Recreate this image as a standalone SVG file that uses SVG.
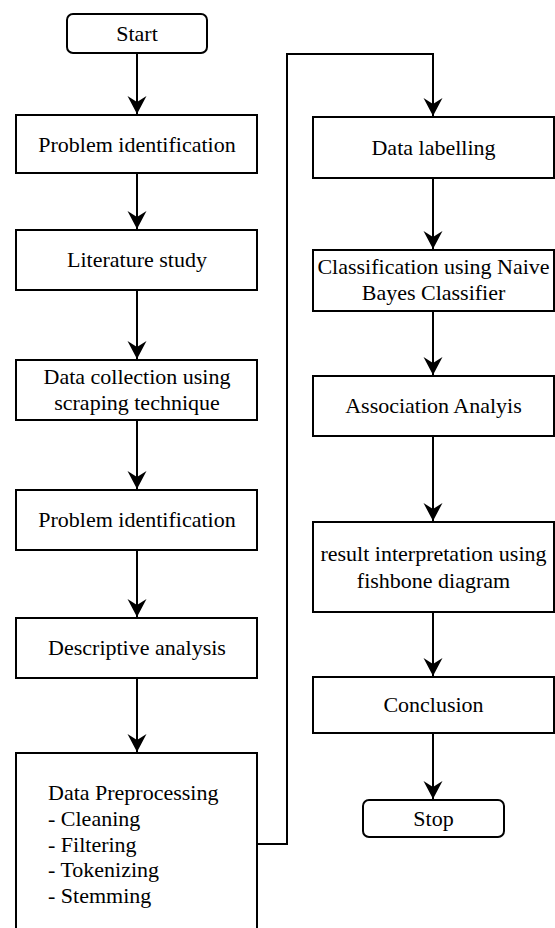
<svg xmlns="http://www.w3.org/2000/svg" width="555" height="928" viewBox="0 0 555 928">
<defs>
<style>
.box{fill:#fff;stroke:#000;stroke-width:2}
.t{font-size:22px;fill:#000;text-anchor:middle}
.tl{font-size:22px;fill:#000}
.c{fill:none;stroke:#000;stroke-width:2}
</style>
<marker id="ah" markerWidth="20" markerHeight="20" refX="18" refY="10" orient="auto" markerUnits="userSpaceOnUse" viewBox="0 0 20 20">
<path d="M18,10 L0,0.5 L6,10 L0,19.5 Z" fill="#000"/>
</marker>
</defs>
<rect width="555" height="928" fill="#fff"/>
<g id="connectors">
<path class="c" d="M137,53 V114" marker-end="url(#ah)"/>
<path class="c" d="M137,173 V229" marker-end="url(#ah)"/>
<path class="c" d="M137,290 V359" marker-end="url(#ah)"/>
<path class="c" d="M137,420 V489" marker-end="url(#ah)"/>
<path class="c" d="M137,550 V617" marker-end="url(#ah)"/>
<path class="c" d="M137,678 V752" marker-end="url(#ah)"/>
<path class="c" d="M257,844 H287 V54 H433 V116" marker-end="url(#ah)"/>
<path class="c" d="M433,178 V249" marker-end="url(#ah)"/>
<path class="c" d="M433,311 V375" marker-end="url(#ah)"/>
<path class="c" d="M433,436 V521" marker-end="url(#ah)"/>
<path class="c" d="M433,612 V676" marker-end="url(#ah)"/>
<path class="c" d="M433,733 V799" marker-end="url(#ah)"/>
</g>
<g font-family="Liberation Serif, Times New Roman, serif">
<g id="start"><rect class="box" x="67" y="14" width="140" height="39" rx="6"/><text class="t" x="137" y="41">Start</text></g>
<g id="problem1"><rect class="box" x="16" y="115" width="241" height="58"/><text class="t" x="137" y="152">Problem identification</text></g>
<g id="literature"><rect class="box" x="16" y="230" width="241" height="60"/><text class="t" x="137" y="267">Literature study</text></g>
<g id="collection"><rect class="box" x="16" y="360" width="241" height="60"/><text class="t" x="137" y="384">Data collection using</text><text class="t" x="137" y="410">scraping technique</text></g>
<g id="problem2"><rect class="box" x="16" y="490" width="241" height="60"/><text class="t" x="137" y="527">Problem identification</text></g>
<g id="descriptive"><rect class="box" x="16" y="618" width="241" height="60"/><text class="t" x="137" y="655">Descriptive analysis</text></g>
<g id="preprocessing"><rect class="box" x="16" y="753" width="241" height="200"/>
<text class="tl" x="48" y="800">Data Preprocessing</text>
<text class="tl" x="48" y="826">- Cleaning</text>
<text class="tl" x="48" y="852">- Filtering</text>
<text class="tl" x="48" y="877">- Tokenizing</text>
<text class="tl" x="48" y="903">- Stemming</text>
</g>
<g id="labelling"><rect class="box" x="313" y="117" width="241" height="61"/><text class="t" x="433.5" y="155">Data labelling</text></g>
<g id="classification"><rect class="box" x="313" y="250" width="241" height="61"/><text class="t" x="433.5" y="274">Classification using Naive</text><text class="t" x="433.5" y="300">Bayes Classifier</text></g>
<g id="association"><rect class="box" x="313" y="376" width="241" height="60"/><text class="t" x="433.5" y="413">Association Analyis</text></g>
<g id="interpretation"><rect class="box" x="313" y="522" width="241" height="90"/><text class="t" x="433.5" y="561">result interpretation using</text><text class="t" x="433.5" y="588">fishbone diagram</text></g>
<g id="conclusion"><rect class="box" x="313" y="677" width="241" height="56"/><text class="t" x="433.5" y="712">Conclusion</text></g>
<g id="stop"><rect class="box" x="363" y="800" width="141" height="37" rx="6"/><text class="t" x="433.5" y="826">Stop</text></g>
</g>
</svg>
